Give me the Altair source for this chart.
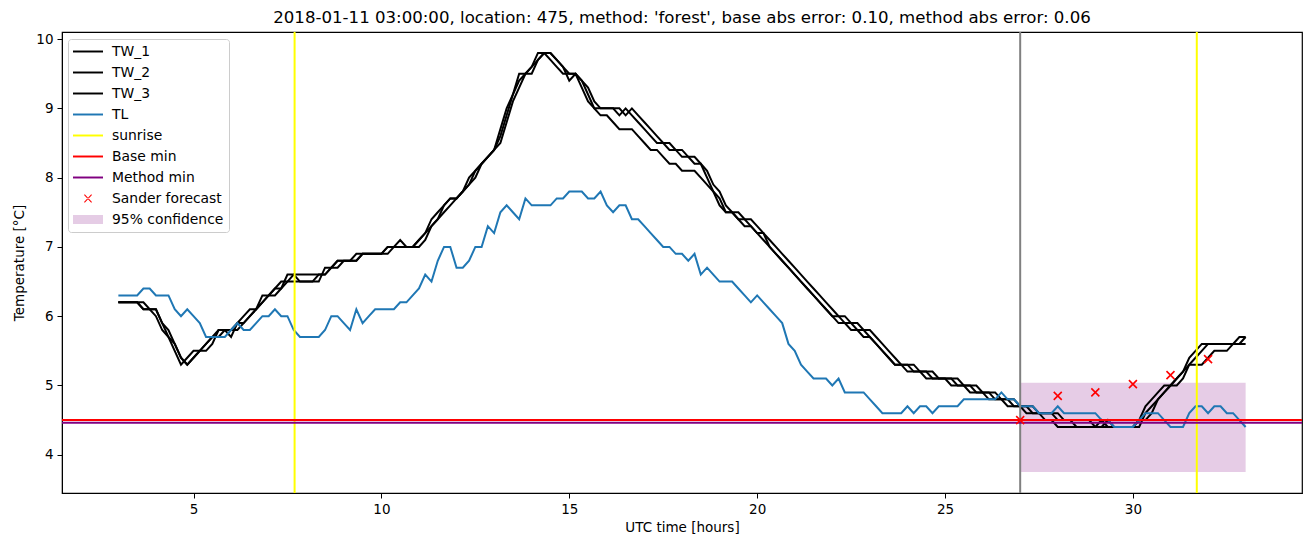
import altair as alt
import pandas as pd

# ---- data (10-minute samples from 03:00 to 33:00 UTC hours) ----
TL = [
    6.3, 6.3, 6.3, 6.3, 6.4, 6.4,
    6.3, 6.3, 6.3, 6.1, 6.0, 6.1,
    6.0, 5.9, 5.7, 5.7, 5.7, 5.7,
    5.8, 5.9, 5.8, 5.8, 5.9, 6.0,
    6.0, 6.1, 6.0, 6.0, 5.8, 5.7,
    5.7, 5.7, 5.7, 5.8, 6.0, 6.0,
    5.9, 5.8, 6.1, 5.9, 6.0, 6.1,
    6.1, 6.1, 6.1, 6.2, 6.2, 6.3,
    6.4, 6.6, 6.5, 6.8, 7.0, 7.0,
    6.7, 6.7, 6.8, 7.0, 7.0, 7.3,
    7.2, 7.5, 7.6, 7.5, 7.4, 7.7,
    7.6, 7.6, 7.6, 7.6, 7.7, 7.7,
    7.8, 7.8, 7.8, 7.7, 7.7, 7.8,
    7.6, 7.5, 7.6, 7.6, 7.4, 7.4,
    7.3, 7.2, 7.1, 7.0, 7.0, 6.9,
    6.9, 6.8, 6.9, 6.6, 6.7, 6.6,
    6.5, 6.5, 6.5, 6.4, 6.3, 6.2,
    6.3, 6.2, 6.1, 6.0, 5.9, 5.6,
    5.5, 5.3, 5.2, 5.1, 5.1, 5.1,
    5.0, 5.1, 4.9, 4.9, 4.9, 4.9,
    4.8, 4.7, 4.6, 4.6, 4.6, 4.6,
    4.7, 4.6, 4.7, 4.7, 4.6, 4.7,
    4.7, 4.7, 4.7, 4.8, 4.8, 4.8,
    4.8, 4.8, 4.8, 4.9, 4.8, 4.8,
    4.7, 4.7, 4.7, 4.6, 4.6, 4.6,
    4.7, 4.6, 4.6, 4.6, 4.6, 4.6,
    4.6, 4.5, 4.5, 4.4, 4.4, 4.4,
    4.4, 4.5, 4.6, 4.6, 4.6, 4.5,
    4.4, 4.4, 4.4, 4.6, 4.7, 4.7,
    4.6, 4.7, 4.7, 4.6, 4.6, 4.5,
    4.4,
]

TW_1 = [
    6.2, 6.2, 6.2, 6.2, 6.1, 6.1,
    6.0, 5.8, 5.7, 5.5, 5.3, 5.4,
    5.5, 5.5, 5.6, 5.7, 5.8, 5.8,
    5.7, 5.9, 6.0, 6.1, 6.1, 6.3,
    6.3, 6.4, 6.4, 6.6, 6.6, 6.5,
    6.5, 6.5, 6.5, 6.7, 6.7, 6.8,
    6.8, 6.8, 6.8, 6.9, 6.9, 6.9,
    6.9, 7.0, 7.0, 7.0, 7.0, 7.0,
    7.1, 7.2, 7.4, 7.5, 7.6, 7.7,
    7.7, 7.8, 8.0, 8.1, 8.2, 8.3,
    8.4, 8.7, 9.0, 9.2, 9.5, 9.5,
    9.6, 9.8, 9.8, 9.7, 9.6, 9.5,
    9.5, 9.5, 9.3, 9.1, 9.0, 9.0,
    9.0, 9.0, 8.9, 9.0, 8.9, 8.8,
    8.7, 8.6, 8.5, 8.5, 8.4, 8.4,
    8.3, 8.3, 8.2, 8.2, 8.0, 7.8,
    7.7, 7.5, 7.5, 7.4, 7.4, 7.3,
    7.2, 7.2, 7.0, 6.9, 6.8, 6.7,
    6.6, 6.5, 6.4, 6.3, 6.2, 6.1,
    6.0, 6.0, 5.9, 5.9, 5.8, 5.8,
    5.7, 5.6, 5.5, 5.4, 5.3, 5.3,
    5.3, 5.2, 5.2, 5.2, 5.1, 5.1,
    5.1, 5.1, 5.0, 5.0, 5.0, 4.9,
    4.9, 4.9, 4.8, 4.8, 4.8, 4.7,
    4.7, 4.7, 4.6, 4.6, 4.6, 4.6,
    4.5, 4.5, 4.5, 4.4, 4.4, 4.4,
    4.4, 4.5, 4.4, 4.4, 4.4, 4.4,
    4.4, 4.5, 4.7, 4.8, 4.9, 5.0,
    5.0, 5.1, 5.2, 5.4, 5.5, 5.6,
    5.6, 5.6, 5.6, 5.6, 5.6, 5.7,
    5.7,
]

TW_2 = [
    6.2, 6.2, 6.2, 6.2, 6.2, 6.1,
    6.1, 5.9, 5.8, 5.6, 5.4, 5.3,
    5.4, 5.5, 5.5, 5.6, 5.8, 5.8,
    5.8, 5.8, 5.9, 6.0, 6.1, 6.2,
    6.3, 6.3, 6.4, 6.5, 6.6, 6.6,
    6.6, 6.6, 6.6, 6.6, 6.7, 6.8,
    6.8, 6.8, 6.9, 6.9, 6.9, 6.9,
    6.9, 6.9, 7.0, 7.1, 7.0, 7.0,
    7.0, 7.1, 7.3, 7.4, 7.5, 7.6,
    7.7, 7.8, 7.9, 8.0, 8.2, 8.3,
    8.4, 8.5, 8.8, 9.1, 9.3, 9.5,
    9.5, 9.7, 9.8, 9.8, 9.7, 9.6,
    9.4, 9.5, 9.4, 9.3, 9.1, 9.0,
    9.0, 9.0, 9.0, 8.9, 9.0, 8.9,
    8.8, 8.7, 8.6, 8.5, 8.5, 8.4,
    8.4, 8.3, 8.3, 8.2, 8.1, 7.9,
    7.8, 7.6, 7.5, 7.5, 7.4, 7.4,
    7.3, 7.2, 7.1, 7.0, 6.9, 6.8,
    6.7, 6.6, 6.5, 6.4, 6.3, 6.2,
    6.1, 6.0, 6.0, 5.9, 5.9, 5.8,
    5.8, 5.7, 5.6, 5.5, 5.4, 5.3,
    5.3, 5.3, 5.2, 5.2, 5.2, 5.1,
    5.1, 5.1, 5.1, 5.0, 5.0, 5.0,
    4.9, 4.9, 4.9, 4.8, 4.8, 4.8,
    4.7, 4.7, 4.7, 4.6, 4.6, 4.6,
    4.6, 4.5, 4.5, 4.5, 4.5, 4.5,
    4.4, 4.4, 4.5, 4.4, 4.4, 4.4,
    4.4, 4.4, 4.6, 4.7, 4.8, 4.9,
    5.0, 5.0, 5.1, 5.3, 5.4, 5.5,
    5.6, 5.6, 5.6, 5.6, 5.6, 5.6,
    5.7,
]

TW_3 = [
    6.2, 6.2, 6.2, 6.2, 6.1, 6.1,
    6.1, 5.9, 5.7, 5.6, 5.4, 5.3,
    5.4, 5.5, 5.6, 5.7, 5.7, 5.8,
    5.8, 5.9, 5.9, 6.0, 6.1, 6.2,
    6.3, 6.4, 6.5, 6.5, 6.5, 6.5,
    6.5, 6.5, 6.6, 6.6, 6.7, 6.7,
    6.8, 6.8, 6.8, 6.9, 6.9, 6.9,
    6.9, 7.0, 7.0, 7.0, 7.0, 7.0,
    7.1, 7.2, 7.3, 7.4, 7.6, 7.7,
    7.7, 7.8, 7.9, 8.1, 8.2, 8.3,
    8.4, 8.6, 8.9, 9.2, 9.4, 9.5,
    9.6, 9.7, 9.8, 9.8, 9.7, 9.6,
    9.5, 9.5, 9.4, 9.2, 9.0, 8.9,
    8.9, 8.8, 8.7, 8.7, 8.7, 8.6,
    8.5, 8.4, 8.4, 8.3, 8.2, 8.2,
    8.1, 8.1, 8.1, 8.0, 7.9, 7.8,
    7.6, 7.5, 7.5, 7.4, 7.3, 7.3,
    7.2, 7.1, 7.0, 6.9, 6.8, 6.7,
    6.6, 6.5, 6.4, 6.3, 6.2, 6.1,
    6.0, 5.9, 5.9, 5.8, 5.8, 5.7,
    5.7, 5.6, 5.5, 5.4, 5.3, 5.3,
    5.2, 5.2, 5.2, 5.1, 5.1, 5.1,
    5.1, 5.0, 5.0, 5.0, 4.9, 4.9,
    4.9, 4.8, 4.8, 4.8, 4.7, 4.7,
    4.7, 4.6, 4.6, 4.6, 4.5, 4.5,
    4.4, 4.4, 4.4, 4.4, 4.4, 4.4,
    4.4, 4.4, 4.4, 4.4, 4.4, 4.4,
    4.4, 4.5, 4.5, 4.6, 4.8, 4.9,
    5.0, 5.1, 5.2, 5.3, 5.3, 5.3,
    5.4, 5.5, 5.5, 5.5, 5.6, 5.6,
    5.6,
]

SUNRISE = [7.69, 31.70]
FORECAST_START = [27.0]
BASE_MIN = [4.5]
METHOD_MIN = [4.46]
FORECAST_HOURS = [27, 28, 29, 30, 31, 32]
FORECAST_VALUES = [4.5, 4.85, 4.9, 5.02, 5.15, 5.38]
CONF_START, CONF_END = [27.0], [33.0]
CONF_LOW, CONF_HIGH = [3.75], [5.04]

LEGEND_NAMES = ["TW_1", "TW_2", "TW_3", "TL", "sunrise", "Base min",
                "Method min", "Sander forecast", "95% confidence"]
LEGEND_COLORS = ["black", "black", "black", "#1f77b4", "#ffff00", "#ff0000",
                 "#800080", "#ff0000", "#e5cce5"]

TITLE = ("2018-01-11 03:00:00, location: 475, method: 'forest', "
         "base abs error: 0.10, method abs error: 0.06")

# ---- tables ----
hours = [3 + i / 6 for i in range(len(TL))]
rows = []
for name, vals in [("TW_1", TW_1), ("TW_2", TW_2), ("TW_3", TW_3), ("TL", TL)]:
    for h, v in zip(hours, vals):
        rows.append({"h": h, "T": v, "series": name})
lines_df = pd.DataFrame(rows)

x_scale = alt.Scale(domain=[1.5, 34.5], nice=False, zero=False)
y_scale = alt.Scale(domain=[3.4475, 10.1025], nice=False, zero=False)

X = alt.X("h:Q", scale=x_scale,
          axis=alt.Axis(values=[5, 10, 15, 20, 25, 30], title="UTC time [hours]",
                        format="d"))
Y = alt.Y("T:Q", scale=y_scale,
          axis=alt.Axis(values=[4, 5, 6, 7, 8, 9, 10], title="Temperature [°C]",
                        format="d"))

conf = alt.Chart(pd.DataFrame({"h": CONF_START, "h2": CONF_END,
                               "T": CONF_LOW, "T2": CONF_HIGH})).mark_rect(
    color="purple", opacity=0.2).encode(x=X, x2="h2:Q", y=Y, y2="T2:Q")

tw = alt.Chart(lines_df[lines_df.series != "TL"]).mark_line(
    color="black", strokeWidth=2).encode(x=X, y=Y, detail="series:N")
tl = alt.Chart(lines_df[lines_df.series == "TL"]).mark_line(
    color="#1f77b4", strokeWidth=2).encode(x=X, y=Y)

sunrise = alt.Chart(pd.DataFrame({"h": SUNRISE})).mark_rule(
    color="#ffff00", strokeWidth=2).encode(x=X)
fstart = alt.Chart(pd.DataFrame({"h": FORECAST_START})).mark_rule(
    color="gray", strokeWidth=2).encode(x=X)
base = alt.Chart(pd.DataFrame({"T": BASE_MIN})).mark_rule(
    color="red", strokeWidth=2).encode(y=Y)
method = alt.Chart(pd.DataFrame({"T": METHOD_MIN})).mark_rule(
    color="purple", strokeWidth=2).encode(y=Y)

xpath = "M-1,-1L1,1M-1,1L1,-1"
fc = alt.Chart(pd.DataFrame({"h": FORECAST_HOURS, "T": FORECAST_VALUES})).mark_point(
    shape=xpath, color="red", size=64, strokeWidth=1.6, filled=False, opacity=1
).encode(x=X, y=Y)

# legend (points of size 0 carry the legend); symbol unit = 7.5 px
line_sym = "M-1,-0.13H3V0.13H-1Z"
x_sym = ("M0.47,-0.47L0.57,-0.57L1.53,0.47L1.43,0.57Z"
         "M1.53,-0.47L1.43,-0.57L0.47,0.47L0.57,0.57Z")
rect_sym = "M-1,-0.6H3V0.6H-1Z"
LEGEND_SHAPES = [line_sym] * 7 + [x_sym, rect_sym]

legend = alt.Legend(
    title=None, orient="none", legendX=6, legendY=7,
    symbolSize=225, symbolStrokeWidth=0, symbolOpacity=1,
    labelFontSize=13.9, labelFont="DejaVu Sans",
    labelOffset=24, rowPadding=6, padding=5, strokeColor="#cccccc",
    fillColor="white", cornerRadius=3, labelColor="black")

leg = alt.Chart(pd.DataFrame({"series": LEGEND_NAMES})).mark_point(
    filled=True, size=0).encode(
    color=alt.Color("series:N", scale=alt.Scale(domain=LEGEND_NAMES, range=LEGEND_COLORS),
                    legend=legend),
    shape=alt.Shape("series:N", scale=alt.Scale(domain=LEGEND_NAMES, range=LEGEND_SHAPES),
                    legend=legend),
)

chart = alt.layer(conf, tw, tl, sunrise, fstart, base, method, fc, leg).properties(
    width=1240, height=461,
    title=alt.TitleParams(TITLE, fontSize=16.6, font="DejaVu Sans", fontWeight="normal",
                          color="black", offset=4),
    autosize=alt.AutoSizeParams(type="none"),
    padding={"left": 62, "top": 32, "right": 8, "bottom": 54},
).configure_view(stroke="black", strokeWidth=1.2).configure_axis(
    grid=False, domainColor="black", tickColor="black", tickSize=5,
    labelFont="DejaVu Sans", labelFontSize=13.5, labelColor="black", labelPadding=4,
    titleFont="DejaVu Sans", titleFontSize=13.5, titleFontWeight="normal",
    titleColor="black", domain=True, labelFlush=False,
).configure_axisX(titlePadding=5).configure_axisY(titlePadding=9)

chart.save("out.html", embed_options={"renderer": "svg", "actions": False})
